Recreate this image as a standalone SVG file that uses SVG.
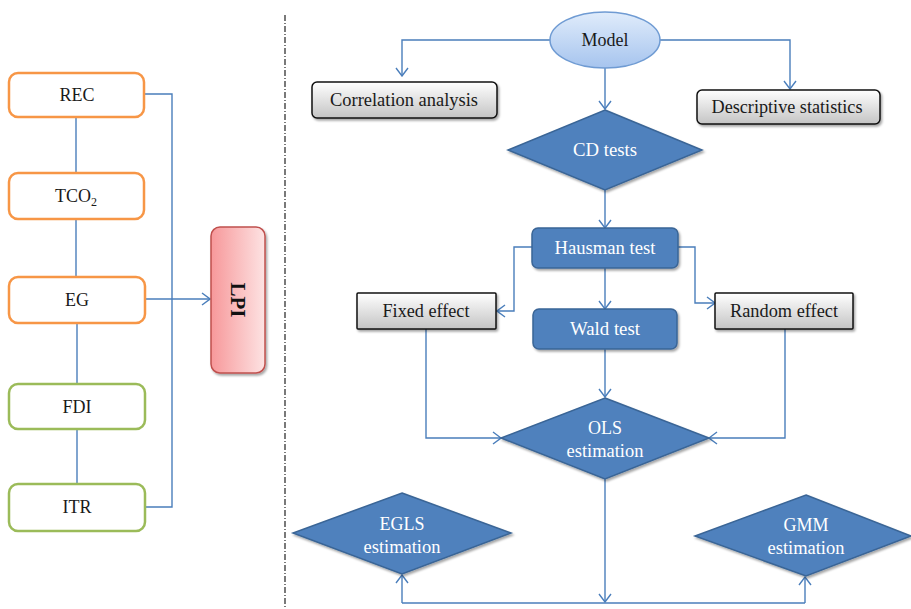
<svg xmlns="http://www.w3.org/2000/svg" width="911" height="609" viewBox="0 0 911 609" font-family="Liberation Serif, DejaVu Serif, serif">
<style>
text{font-family:'Liberation Serif','Times New Roman','DejaVu Serif',serif;text-anchor:middle;}
.lbl{font-size:18px;fill:#1a1a1a;}
.wl{font-size:18px;fill:#ffffff;}
.orange{fill:#ffffff;stroke:#f79646;stroke-width:2.5;}
.green{fill:#ffffff;stroke:#9bbb59;stroke-width:2.5;}
.gray{fill:url(#gGray);stroke:#111;stroke-width:1.5;filter:url(#sh);}
.blue{fill:#4f81bd;stroke:#3a6596;stroke-width:1.5;filter:url(#sh);}
.con line,.con polyline,.con path{fill:none;stroke:#4a7ebb;stroke-width:1.4;}
</style>
<defs>
<linearGradient id="gGray" x1="0" y1="0" x2="0" y2="1"><stop offset="0" stop-color="#ffffff"/><stop offset="1" stop-color="#c4c4c4"/></linearGradient>
<linearGradient id="gModel" x1="0" y1="0" x2="0" y2="1"><stop offset="0" stop-color="#e0ecfb"/><stop offset="1" stop-color="#a6c4ee"/></linearGradient>
<linearGradient id="gLPI" x1="0" y1="0" x2="1" y2="0"><stop offset="0" stop-color="#f7989a"/><stop offset="1" stop-color="#fde3e3"/></linearGradient>
<filter id="sh" x="-10%" y="-10%" width="130%" height="140%"><feDropShadow dx="1.5" dy="2" stdDeviation="1.2" flood-color="#000" flood-opacity="0.35"/></filter>
<marker id="arr" viewBox="0 0 10 14" refX="9" refY="7" markerWidth="10" markerHeight="14" markerUnits="userSpaceOnUse" orient="auto"><path d="M1,1 L9,7 L1,13" fill="none" stroke="#4a7ebb" stroke-width="1.4"/></marker>
</defs>

<!-- separator -->
<line x1="285" y1="15" x2="285" y2="609" stroke="#333" stroke-width="1.3" stroke-dasharray="6,2,1,2"/>

<g id="connectors" class="con">
<polyline points="76,117 76,173"/>
<polyline points="76,219 76,277"/>
<polyline points="77,323 77,384"/>
<polyline points="77,429 77,484"/>
<polyline points="144,94 172,94 172,507 145,507"/>
<line x1="145" y1="299" x2="210" y2="299" marker-end="url(#arr)"/>
<polyline points="551,40 402,40 402,76" marker-end="url(#arr)"/>
<polyline points="659,40 790,40 790,89" marker-end="url(#arr)"/>
<line x1="605" y1="68" x2="605" y2="109" marker-end="url(#arr)"/>
<line x1="605" y1="190" x2="605" y2="228" marker-end="url(#arr)"/>
<polyline points="532,247 514,247 514,311 497,311" marker-end="url(#arr)"/>
<polyline points="678,247 695,247 695,303 715,303" marker-end="url(#arr)"/>
<line x1="605" y1="268" x2="605" y2="309" marker-end="url(#arr)"/>
<line x1="605" y1="349" x2="605" y2="397" marker-end="url(#arr)"/>
<polyline points="426,329 426,438 501,438" marker-end="url(#arr)"/>
<polyline points="785,329 785,438 709,438" marker-end="url(#arr)"/>
<line x1="605" y1="479" x2="605" y2="602" marker-end="url(#arr)"/>
<polyline points="402,603 805,603"/>
<line x1="402" y1="603" x2="402" y2="575" marker-end="url(#arr)"/>
<line x1="805" y1="603" x2="805" y2="577" marker-end="url(#arr)"/>
</g>

<g id="REC"><rect class="orange" x="9" y="73" width="135" height="44" rx="9"/><text class="lbl" x="77" y="101">REC</text></g>
<g id="TCO2"><rect class="orange" x="9" y="173" width="135" height="46" rx="9"/><text class="lbl" x="76" y="202">TCO<tspan font-size="12" dy="4">2</tspan></text></g>
<g id="EG"><rect class="orange" x="9" y="277" width="136" height="46" rx="9"/><text class="lbl" x="77" y="306">EG</text></g>
<g id="FDI"><rect class="green" x="9" y="384" width="136" height="45" rx="9"/><text class="lbl" x="77" y="413">FDI</text></g>
<g id="ITR"><rect class="green" x="9" y="484" width="136" height="47" rx="9"/><text class="lbl" x="77" y="513">ITR</text></g>
<g id="LPI"><rect x="211" y="227" width="54" height="146" rx="9" fill="url(#gLPI)" stroke="#c0504d" stroke-width="1.5" filter="url(#sh)"/><text x="238" y="300" font-size="21" font-weight="bold" fill="#111" transform="rotate(90 238 300)" dy="7">LPI</text></g>

<g id="Model"><ellipse cx="605" cy="40" rx="55" ry="28" fill="url(#gModel)" stroke="#6f9bd3" stroke-width="1.5"/><text class="lbl" x="605" y="46">Model</text></g>
<g id="Correlation"><rect class="gray" x="312" y="82" width="185" height="36" rx="5"/><text class="lbl" x="404" y="106" textLength="148" lengthAdjust="spacingAndGlyphs">Correlation analysis</text></g>
<g id="Descriptive"><rect class="gray" x="697" y="90" width="183" height="34" rx="5"/><text class="lbl" x="787" y="113" textLength="151" lengthAdjust="spacingAndGlyphs">Descriptive statistics</text></g>
<g id="CD"><polygon class="blue" points="605,110 702,150 605,190 508,150"/><text class="wl" x="605" y="156" textLength="64" lengthAdjust="spacingAndGlyphs">CD tests</text></g>
<g id="Hausman"><rect class="blue" x="532" y="228" width="146" height="40" rx="6"/><text class="wl" x="605" y="254" textLength="101" lengthAdjust="spacingAndGlyphs">Hausman test</text></g>
<g id="Fixed"><rect class="gray" x="357" y="293" width="139" height="36" rx="1"/><text class="lbl" x="426" y="317" textLength="87" lengthAdjust="spacingAndGlyphs">Fixed effect</text></g>
<g id="Random"><rect class="gray" x="715" y="293" width="138" height="36" rx="1"/><text class="lbl" x="784" y="317" textLength="108" lengthAdjust="spacingAndGlyphs">Random effect</text></g>
<g id="Wald"><rect class="blue" x="533" y="309" width="144" height="40" rx="6"/><text class="wl" x="605" y="335" textLength="70" lengthAdjust="spacingAndGlyphs">Wald test</text></g>
<g id="OLS"><polygon class="blue" points="605,398 709,438 605,479 501,438"/><text class="wl" x="605" y="434">OLS</text><text class="wl" x="605" y="457" textLength="77" lengthAdjust="spacingAndGlyphs">estimation</text></g>
<g id="EGLS"><polygon class="blue" points="402,493 511,533 402,574 293,533"/><text class="wl" x="402" y="530">EGLS</text><text class="wl" x="402" y="553" textLength="77" lengthAdjust="spacingAndGlyphs">estimation</text></g>
<g id="GMM"><polygon class="blue" points="806,495 911,536 806,576 695,536"/><text class="wl" x="806" y="531">GMM</text><text class="wl" x="806" y="554" textLength="77" lengthAdjust="spacingAndGlyphs">estimation</text></g>
</svg>
